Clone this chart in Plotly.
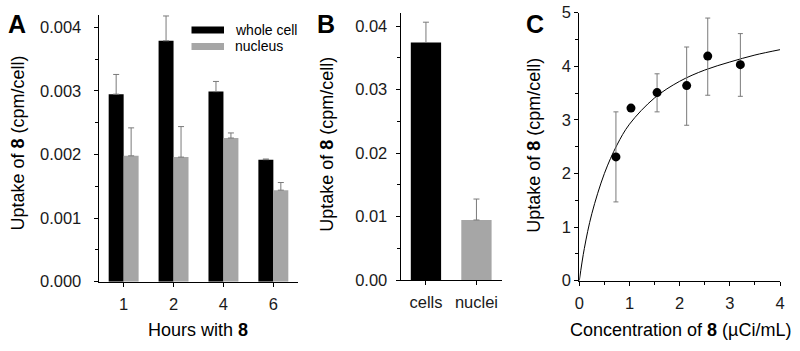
import plotly.graph_objects as go

# ---------------- data ----------------
# Panel A
hours = ["1", "2", "4", "6"]
whole_cell = [0.00295, 0.00379, 0.00299, 0.00192]
whole_cell_err = [0.00031, 0.00039, 0.00016, 0.00001]
nucleus = [0.00198, 0.00196, 0.00226, 0.00144]
nucleus_err = [0.00044, 0.00048, 0.00008, 0.00012]

# Panel B
fractions = ["cells", "nuclei"]
uptake_b = [0.0374, 0.00945]
uptake_b_err = [0.0032, 0.0033]

# Panel C
conc = [0.73, 1.03, 1.55, 2.14, 2.56, 3.21]
uptake_c = [2.31, 3.22, 3.51, 3.64, 4.19, 4.03]
err_c_plus = [0.84, 0.0, 0.35, 0.72, 0.71, 0.58]
err_c_minus = [0.84, 0.0, 0.36, 0.74, 0.73, 0.59]
fit_x = [0, 0.1, 0.25, 0.5, 0.75, 1.0, 1.5, 2.0, 2.5, 3.0, 3.5, 4.0]
fit_y = [0, 0.60, 1.25, 2.00, 2.53, 2.92, 3.41, 3.72, 3.93, 4.08, 4.21, 4.31]

# ---------------- style ----------------
W, H = 800, 351
FONT = "Liberation Sans, Arial, sans-serif"
BLACK = "#000000"
GRAY = "#a6a6a6"
ERR = "#7a7a7a"
TICKFONT = dict(family=FONT, size=16.5, color="#1a1a1a")


def px_x(x):
    return x / W


def px_y(y):
    return 1 - y / H


fig = go.Figure()

# Panel A bars
fig.add_trace(go.Bar(
    x=hours, y=whole_cell, name="whole cell", marker=dict(color=BLACK, line=dict(width=0)),
    error_y=dict(type="data", array=whole_cell_err, arrayminus=[0] * len(hours),
                 symmetric=False, color=ERR, thickness=1, width=3),
    xaxis="x", yaxis="y", showlegend=False))
fig.add_trace(go.Bar(
    x=hours, y=nucleus, name="nucleus", marker=dict(color=GRAY, line=dict(width=0)),
    error_y=dict(type="data", array=nucleus_err, arrayminus=[0] * len(hours),
                 symmetric=False, color=ERR, thickness=1, width=3),
    xaxis="x", yaxis="y", showlegend=False))

# Panel B bars
fig.add_trace(go.Bar(
    x=fractions, y=uptake_b, marker=dict(color=[BLACK, GRAY], line=dict(width=0)),
    error_y=dict(type="data", array=uptake_b_err, arrayminus=[0] * len(fractions),
                 symmetric=False, color=ERR, thickness=1, width=3),
    xaxis="x2", yaxis="y2", showlegend=False))

# Panel C fit curve and points
fig.add_trace(go.Scatter(
    x=fit_x, y=fit_y, mode="lines", line=dict(color=BLACK, width=1, shape="spline", smoothing=1.0),
    xaxis="x3", yaxis="y3", showlegend=False, hoverinfo="skip"))
fig.add_trace(go.Scatter(
    x=conc, y=uptake_c, mode="markers", marker=dict(color=BLACK, size=9),
    error_y=dict(type="data", array=err_c_plus, arrayminus=err_c_minus, symmetric=False,
                 color=ERR, thickness=1, width=2.5),
    xaxis="x3", yaxis="y3", showlegend=False))

axis_common = dict(showline=True, linecolor=BLACK, linewidth=1.2, ticks="outside",
                   ticklen=4, tickcolor=BLACK, tickwidth=1, showgrid=False, zeroline=False,
                   tickfont=TICKFONT, mirror=False)

fig.update_layout(
    width=W, height=H, margin=dict(l=0, r=0, t=0, b=0, autoexpand=False),
    paper_bgcolor="white", plot_bgcolor="white",
    barmode="group", bargap=0.4, bargroupgap=0,
    font=dict(family=FONT, color=BLACK),
    xaxis=dict(domain=[px_x(98.7), px_x(298.3)], anchor="y", type="category",
               range=[-0.5, 3.5], ticklabelstandoff=3, **axis_common),
    yaxis=dict(domain=[px_y(281.7), px_y(14.7)], anchor="x", range=[0, 0.0042],
               tickvals=[0, 0.001, 0.002, 0.003, 0.004], tickformat=".3f",
               ticklabelstandoff=9,
               minor=dict(tickvals=[0.0005, 0.0015, 0.0025, 0.0035], ticks="outside",
                          ticklen=3, tickcolor=BLACK),
               **axis_common),
    xaxis2=dict(domain=[px_x(400.7), px_x(501.7)], anchor="y2", type="category",
                range=[-0.5, 1.5], ticklabelstandoff=3, **axis_common),
    yaxis2=dict(domain=[px_y(280), px_y(13.3)], anchor="x2", range=[0, 0.042],
                tickvals=[0, 0.01, 0.02, 0.03, 0.04], tickformat=".2f",
                ticklabelstandoff=5,
                minor=dict(tickvals=[0.005, 0.015, 0.025, 0.035], ticks="outside",
                           ticklen=3, tickcolor=BLACK),
                **axis_common),
    xaxis3=dict(domain=[px_x(579.3), px_x(780)], anchor="y3", range=[0, 4],
                tickvals=[0, 1, 2, 3, 4], ticklabelstandoff=3,
                minor=dict(tickvals=[0.5, 1.5, 2.5, 3.5], ticks="outside",
                           ticklen=3, tickcolor=BLACK),
                **axis_common),
    yaxis3=dict(domain=[px_y(280.7), px_y(12.7)], anchor="x3", range=[0, 5],
                tickvals=[0, 1, 2, 3, 4, 5], ticklabelstandoff=0,
                minor=dict(tickvals=[0.5, 1.5, 2.5, 3.5, 4.5], ticks="outside",
                           ticklen=3, tickcolor=BLACK),
                **axis_common),
)

TITLE_FONT = dict(family=FONT, size=18, color=BLACK)
LETTER_FONT = dict(family=FONT, size=25, color=BLACK)
ytitle = "Uptake of <b>8</b> (cpm/cell)"

annotations = [
    dict(text=ytitle, x=px_x(18), y=px_y(143.5), textangle=-90, font=TITLE_FONT),
    dict(text=ytitle, x=px_x(326.7), y=px_y(144), textangle=-90, font=TITLE_FONT),
    dict(text=ytitle, x=px_x(533.3), y=px_y(145.5), textangle=-90, font=TITLE_FONT),
    dict(text="Hours with <b>8</b>", x=px_x(198), y=px_y(330), font=TITLE_FONT),
    dict(text="Concentration of <b>8</b> (µCi/mL)", x=px_x(680), y=px_y(330), font=TITLE_FONT),
    dict(text="<b>A</b>", x=px_x(17), y=px_y(24), font=LETTER_FONT),
    dict(text="<b>B</b>", x=px_x(326), y=px_y(24), font=LETTER_FONT),
    dict(text="<b>C</b>", x=px_x(535), y=px_y(24), font=LETTER_FONT),
    dict(text="whole cell", x=px_x(233), y=px_y(30), xanchor="left",
         font=dict(family=FONT, size=14, color=BLACK)),
    dict(text="nucleus", x=px_x(233), y=px_y(46.5), xanchor="left",
         font=dict(family=FONT, size=14, color=BLACK)),
]
for a in annotations:
    a.setdefault("xanchor", "center")
    a.update(xref="paper", yref="paper", yanchor="middle", showarrow=False)
fig.update_layout(annotations=annotations)

fig.update_layout(shapes=[
    dict(type="rect", xref="paper", yref="paper", x0=px_x(191.5), x1=px_x(224),
         y0=px_y(33.5), y1=px_y(26.5), fillcolor=BLACK, line=dict(width=0)),
    dict(type="rect", xref="paper", yref="paper", x0=px_x(191.5), x1=px_x(224),
         y0=px_y(50), y1=px_y(43), fillcolor=GRAY, line=dict(width=0)),
])

fig.write_html("out.html", config={"displayModeBar": False},
               post_script="document.body.style.margin='0';document.body.style.overflow='hidden';")
